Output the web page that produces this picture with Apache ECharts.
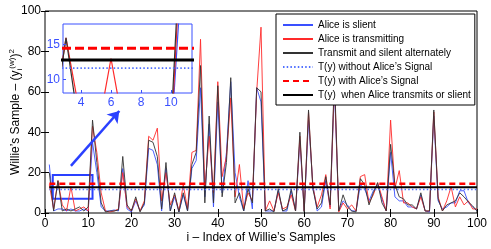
<!DOCTYPE html>
<html>
<head>
<meta charset="utf-8">
<script src="https://cdn.jsdelivr.net/npm/echarts@6/dist/echarts.min.js"></script>
<style>html,body{margin:0;padding:0;background:#fff}#c{width:491px;height:249px}</style>
</head>
<body>
<div id="c"></div>
<script>
// ---- data ----
const sampleIndex = Array.from({length: 100}, (_, k) => k + 1);
const aliceSilent = [
 24,1,2,2,1,2,1,1,2,1, 35,20,3,1,1,1.5,1,22,2,0.5,
 6,1,4,32,31,24,1,22,1,8, 0.5,9,1,22,26,62,8,44,3,55,
 10,30,65,20,8,1,16,2,62,55, 1,1,1,11,1,1,11,1,36,1,
 46,14,1,3,16,3,62,1,6,4, 1,1,14,12,6,11,14,7,1,30,
 8,6,6,3,3,2,9,1,0.5,48, 6,2,3,5,5,11,11,5,3,1
];
const aliceTransmitting = [
 14,2,16,4,1,13,1,2,3,1, 43,30,10,1,0.5,1,2,20,3,1,
 7,1,6,38,36,42,6,20,4,9, 1,14,2,30,31,86,12,38,10,65,
 18,28,57,8,24,2,10,6,60,92, 1,6,1,10,2,3,9,1,38,1,
 50,13,3,9,19,2,65,0.5,5,2, 4,1,18,19,5,9,15,8,1,46,
 12,21,5,5,3,2,8,1,1,50, 8,1,6,13,3,8,4,6,2,2
];
const alternate = [
 20,1,16,1,2,1,2,3,1,3, 46,25,5,0.5,1,1,1.5,28,4,1,
 8,0.5,5,36,35,28,2,25,1,10, 0.5,10,1,24,30,73,5,48,5,63,
 8,25,67,5,10,1,12,5,62,60, 1,2,0.5,12,1,2,12,1,40,0.5,
 51,12,2,5,18,4,68,1,9,3, 1,0.5,17,14,4,10,15,5,1,34,
 14,8,7,4,4,2,10,1,1,51, 7,1,4,5,6,10,8,5.5,3.5,1
];
const thresholdWithout = 11.6;
const thresholdWith = 14.5;
const thresholdAlternate = 12.8;
const xTickLabels = [0,10,20,30,40,50,60,70,80,90,100];
const yTickLabels = [0,20,40,60,80,100];
const insetXTicks = [4,6,8,10];
const insetYTicks = [10,15];
const zoomBox = [[1.8, 7.1], [11, 18.8]];
const arrowFromTo = [[6, 23.3], [17.2, 50.5]];

const names = ['Alice is slient','Alice is transmitting','Transmit and silent alternately',
  'T(y) without Alice\u2019s Signal','T(y) with Alice\u2019s Signal','T(y)  when Alice transmits or slient'];

const pairs = arr => sampleIndex.map((x, k) => [x, arr[k]]);
const flat = v => [[sampleIndex[0], v], [sampleIndex[sampleIndex.length - 1], v]];
const FONT = 'Liberation Sans, Arial, sans-serif';
const BLUE = '#3a50ff', RED = '#ff2a2a', DARK = '#333333';

function seriesFor(ax, inset) {
  const w = inset ? 1.2 : 0.9;
  const base = {type:'line', symbol:'none', xAxisIndex:ax, yAxisIndex:ax, silent:true, clip:true,
    z: inset ? 12 : 2};
  const s = [
    Object.assign({}, base, {name:names[0], data:pairs(aliceSilent), lineStyle:{color:BLUE, width:w}, itemStyle:{color:BLUE}}),
    Object.assign({}, base, {name:names[1], data:pairs(aliceTransmitting), lineStyle:{color:RED, width:w}, itemStyle:{color:RED}}),
    Object.assign({}, base, {name:names[2], data:pairs(alternate), lineStyle:{color:DARK, width:w}, itemStyle:{color:DARK}}),
    Object.assign({}, base, {name:names[3], data:flat(thresholdWithout), lineStyle:{color:'#5070ff', width:inset?1.6:1.5, type:[1.5,2.2]}, itemStyle:{color:'#5070ff'}}),
    Object.assign({}, base, {name:names[4], data:flat(thresholdWith), lineStyle:{color:'#ff0000', width:inset?3:2.5, type:inset?[9,4]:[6,4]}, itemStyle:{color:'#ff0000'}}),
    Object.assign({}, base, {name:names[5], data:flat(thresholdAlternate), lineStyle:{color:'#000', width:inset?3:2}, itemStyle:{color:'#000'}})
  ];
  if (!inset) {
    s[2].markArea = {silent:true, itemStyle:{color:'rgba(0,0,0,0)', borderColor:'#2a40ff', borderWidth:2},
      data:[[{coord:zoomBox[0]},{coord:zoomBox[1]}]]};
    s[2].markLine = {silent:true, symbol:['none','arrow'], symbolSize:11, label:{show:false},
      lineStyle:{color:'#2a40ff', width:2.5, type:'solid'},
      data:[[{coord:arrowFromTo[0]},{coord:arrowFromTo[1]}]]};
  }
  return s;
}

const mainTick = {inside:true, length:4, lineStyle:{color:'#000', width:1}};
const option = {
  animation:false,
  textStyle:{fontFamily:FONT},
  grid:[
    {left:45, top:11, width:432, height:202, show:true, borderColor:'#000', borderWidth:1, backgroundColor:'#fff',
     containLabel:false, outerBoundsMode:'none'},
    {left:63, top:24, width:129, height:69, show:true, borderColor:'#3a50ff', borderWidth:1, backgroundColor:'#fff', z:10,
     containLabel:false, outerBoundsMode:'none'}
  ],
  xAxis:[
    {type:'value', gridIndex:0, min:0, max:100, interval:10, position:'bottom',
     axisLine:{show:false}, splitLine:{show:false}, axisTick:mainTick,
     axisLabel:{margin:5, fontSize:12, color:'#000', fontFamily:FONT, formatter:v => xTickLabels.includes(v) ? String(v) : ''},
     name:'i \u2013 Index of Willie\u2019s Samples', nameLocation:'middle', nameGap:19, nameMoveOverlap:false,
     nameTextStyle:{fontSize:12, color:'#000', fontFamily:FONT}},
    {type:'value', gridIndex:0, min:0, max:100, interval:10, position:'top',
     axisLine:{show:false}, splitLine:{show:false}, axisTick:mainTick, axisLabel:{show:false}},
    {type:'value', gridIndex:1, min:2.8, max:11.4, position:'bottom', z:13,
     axisLine:{show:false}, splitLine:{show:false},
     axisTick:{inside:true, length:3, customValues:insetXTicks, lineStyle:{color:'#3a50ff'}},
     axisLabel:{customValues:insetXTicks, margin:4, fontSize:12, color:'#3a50ff', fontFamily:FONT}}
  ],
  yAxis:[
    {type:'value', gridIndex:0, min:0, max:100, interval:20, position:'left',
     axisLine:{show:false}, splitLine:{show:false}, axisTick:mainTick,
     axisLabel:{margin:4, fontSize:12, color:'#000', fontFamily:FONT, formatter:v => yTickLabels.includes(v) ? String(v) : ''},
     name:'Willie\u2019s Sample \u2013 (y{sub|i}{sup|(w)}){sup|2}', nameLocation:'middle', nameGap:21, nameRotate:90,
     nameMoveOverlap:false,
     nameTextStyle:{fontSize:12, color:'#000', fontFamily:FONT, lineHeight:16,
       rich:{sub:{fontSize:8, verticalAlign:'bottom', fontFamily:FONT, color:'#000', lineHeight:16},
             sup:{fontSize:8, verticalAlign:'top', fontFamily:FONT, color:'#000', lineHeight:16}}}},
    {type:'value', gridIndex:0, min:0, max:100, interval:20, position:'right',
     axisLine:{show:false}, splitLine:{show:false}, axisTick:mainTick, axisLabel:{show:false}},
    {type:'value', gridIndex:1, min:8, max:18, position:'left', z:13,
     axisLine:{show:false}, splitLine:{show:false},
     axisTick:{inside:true, length:3, customValues:insetYTicks, lineStyle:{color:'#3a50ff'}},
     axisLabel:{customValues:insetYTicks, margin:3, fontSize:12, color:'#3a50ff', fontFamily:FONT}}
  ],
  legend:{
    data:names, left:276, top:14, orient:'vertical', selectedMode:false,
    itemWidth:30, itemHeight:10, itemGap:4, padding:[6,4,5,6],
    backgroundColor:'#fff', borderColor:'#000', borderWidth:1, borderRadius:0,
    itemStyle:{opacity:0},
    textStyle:{fontSize:10, color:'#000', fontFamily:FONT}
  },
  series: seriesFor(0, false).concat(seriesFor(2, true))
};

const chart = echarts.init(document.getElementById('c'), null, {renderer:'canvas'});
chart.setOption(option);
</script>
</body>
</html>
